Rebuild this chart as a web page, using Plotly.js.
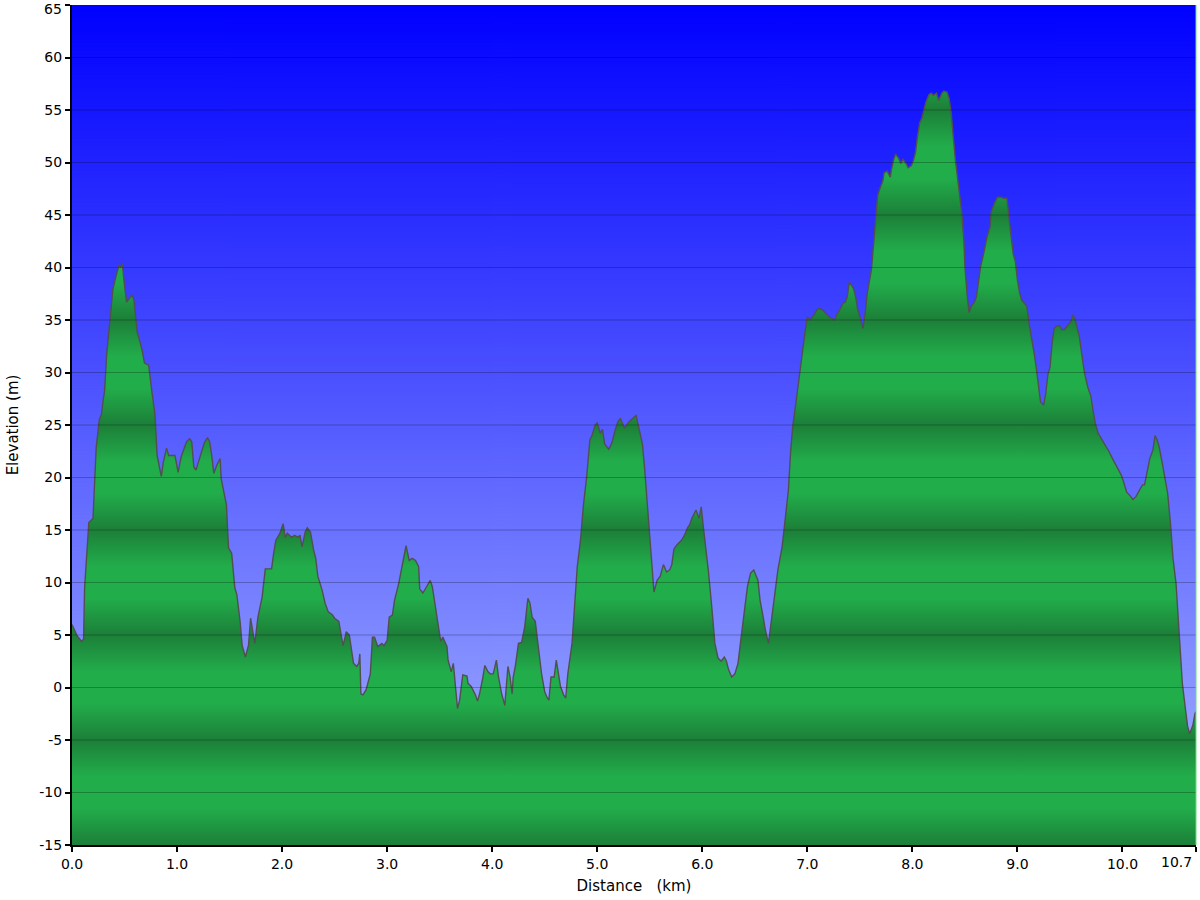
<!DOCTYPE html>
<html>
<head>
<meta charset="utf-8">
<script src="https://cdn.plot.ly/plotly-3.0.1.min.js"></script>
<style>html,body{margin:0;padding:0;background:#fff}#chart{width:1200px;height:900px}</style>
</head>
<body>
<div id="chart"></div>
<script>
// Distance along the route (km)
const distanceKm = [
0.00,0.02,0.05,0.09,0.11,0.12,0.14,0.16,0.20,0.23,0.26,0.28,0.30,0.31,0.33,0.36,0.39,0.43,0.45,0.46,0.48,0.50,0.52,0.55,0.57,0.59,0.62,0.65,0.67,0.69,0.73,0.76,0.79,0.81,0.83,0.85,0.87,0.90,0.92,0.98,
1.01,1.04,1.09,1.12,1.14,1.16,1.18,1.21,1.23,1.26,1.29,1.31,1.33,1.35,1.38,1.41,1.42,1.47,1.49,1.52,1.55,1.57,1.60,1.62,1.65,1.68,1.70,1.72,1.74,1.77,1.81,1.84,1.90,1.92,1.94,1.98,
2.01,2.03,2.05,2.09,2.12,2.15,2.17,2.19,2.22,2.24,2.27,2.30,2.32,2.34,2.38,2.41,2.44,2.48,2.50,2.54,2.56,2.58,2.60,2.61,2.64,2.66,2.68,2.71,2.73,2.74,2.75,2.77,2.80,2.84,2.86,2.88,2.91,2.95,2.97,
3.00,3.02,3.05,3.07,3.11,3.14,3.18,3.21,3.24,3.27,3.30,3.31,3.34,3.37,3.41,3.43,3.46,3.49,3.51,3.53,3.57,3.58,3.61,3.63,3.65,3.67,3.69,3.71,3.72,3.76,3.77,3.80,3.84,3.86,3.88,3.91,3.93,3.96,3.98,
4.01,4.04,4.06,4.09,4.12,4.14,4.15,4.17,4.19,4.20,4.22,4.25,4.28,4.31,4.34,4.36,4.38,4.41,4.44,4.47,4.50,4.52,4.54,4.56,4.59,4.61,4.65,4.68,4.70,4.72,4.76,4.78,4.81,4.84,4.87,4.90,4.93,4.95,4.98,
5.00,5.03,5.05,5.07,5.11,5.14,5.17,5.20,5.22,5.26,5.30,5.33,5.37,5.39,5.43,5.45,5.47,5.49,5.52,5.54,5.57,5.60,5.63,5.66,5.69,5.71,5.73,5.76,5.80,5.83,5.86,5.88,5.90,5.94,5.97,5.99,
6.01,6.04,6.06,6.09,6.12,6.15,6.18,6.21,6.23,6.25,6.28,6.31,6.34,6.37,6.40,6.43,6.46,6.49,6.53,6.55,6.58,6.60,6.63,6.66,6.69,6.72,6.76,6.79,6.82,6.84,6.86,6.89,6.92,6.95,6.98,
7.00,7.03,7.07,7.10,7.14,7.18,7.22,7.26,7.28,7.31,7.34,7.36,7.38,7.40,7.42,7.44,7.46,7.48,7.50,7.52,7.53,7.55,7.57,7.61,7.63,7.65,7.67,7.69,7.72,7.73,7.76,7.79,7.80,7.82,7.84,7.87,7.89,7.91,7.94,7.96,7.99,
8.01,8.03,8.05,8.07,8.09,8.11,8.13,8.16,8.18,8.20,8.22,8.23,8.25,8.28,8.30,8.33,8.35,8.37,8.39,8.41,8.44,8.47,8.49,8.50,8.52,8.54,8.56,8.59,8.61,8.63,8.65,8.68,8.71,8.74,8.75,8.78,8.81,8.84,8.87,8.90,8.91,8.93,8.96,8.98,
9.00,9.02,9.04,9.06,9.09,9.11,9.14,9.16,9.18,9.20,9.22,9.25,9.27,9.29,9.31,9.33,9.35,9.37,9.40,9.42,9.45,9.48,9.51,9.53,9.55,9.57,9.59,9.62,9.64,9.67,9.70,9.72,9.74,9.77,9.80,9.83,9.87,9.91,9.95,9.99,
10.01,10.04,10.07,10.10,10.13,10.16,10.19,10.21,10.24,10.26,10.29,10.31,10.33,10.35,10.38,10.41,10.43,10.46,10.48,10.51,10.53,10.55,10.57,10.60,10.62,10.64,10.67,10.69,10.70
];
// Elevation (m)
const elevationM = [
6.0,5.6,4.9,4.4,4.6,9.5,13.0,15.7,16.1,22.8,25.5,26.0,27.6,28.2,31.7,35.2,38.0,39.6,40.3,40.0,40.3,38.3,36.7,37.1,37.4,36.9,33.9,32.8,32.0,30.9,30.7,28.2,26.0,22.1,20.9,20.1,21.5,22.8,22.1,22.1,
20.5,22.0,23.4,23.7,23.4,21.0,20.7,21.7,22.2,23.3,23.8,23.4,22.1,20.4,21.2,21.8,19.9,17.4,13.3,12.8,9.5,8.8,6.3,4.0,2.9,4.0,6.6,5.3,4.2,6.7,8.6,11.3,11.3,12.8,14.0,14.7,
15.6,14.3,14.7,14.3,14.5,14.3,14.5,13.4,14.8,15.2,14.8,13.1,12.3,10.6,9.3,8.0,7.2,6.9,6.6,6.3,5.2,4.0,4.8,5.3,5.0,3.6,2.3,2.0,2.3,3.2,-0.6,-0.7,-0.2,1.3,4.8,4.8,3.9,4.2,4.0,
4.5,6.7,6.9,8.3,9.9,11.5,13.5,12.1,12.3,12.1,11.5,9.4,9.0,9.5,10.2,9.6,7.7,5.5,4.4,4.8,3.9,2.6,1.5,2.3,0.1,-2.0,-1.2,0.1,1.2,1.1,0.4,0.1,-0.7,-1.3,-0.6,0.9,2.1,1.5,1.3,
1.3,2.6,1.0,-0.6,-1.7,0.7,2.0,1.0,-0.6,1.0,2.0,4.2,4.3,5.8,8.5,8.0,6.7,6.3,3.9,1.3,-0.4,-0.9,-1.2,1.0,1.0,2.6,0.1,-0.7,-1.0,1.3,4.2,7.0,11.5,14.0,17.5,20.1,23.6,24.0,25.0,
25.2,24.2,24.6,23.2,22.7,23.3,24.5,25.4,25.6,24.7,25.3,25.6,25.9,25.0,23.2,21.0,18.5,15.3,12.1,9.1,10.2,10.6,11.7,11.0,11.2,11.7,13.2,13.6,14.0,14.5,15.2,15.5,16.1,16.9,16.1,17.2,
15.3,12.8,10.9,7.7,4.2,2.8,2.5,2.9,2.5,1.7,1.0,1.3,2.3,4.8,7.0,9.6,10.9,11.2,10.2,8.3,6.7,5.5,4.2,6.4,8.6,11.2,13.4,16.0,18.8,22.3,24.8,27.0,29.3,32.1,34.0,
35.3,35.0,35.6,36.1,36.0,35.6,35.2,35.0,35.5,36.0,36.6,36.7,37.2,38.6,38.3,38.0,37.2,36.0,35.3,34.7,34.2,35.6,37.5,39.8,42.0,44.5,46.9,47.5,48.3,49.0,49.2,48.6,49.3,50.2,50.8,50.4,49.9,50.3,49.9,49.5,49.7,
50.2,51.0,52.6,53.8,54.2,55.0,55.8,56.5,56.6,56.4,56.6,56.6,55.9,56.6,56.8,56.7,56.1,54.7,52.4,50.2,47.7,45.2,42.6,40.1,37.5,35.7,36.3,36.7,37.2,38.5,40.1,41.4,42.9,43.9,45.3,46.1,46.7,46.7,46.6,46.6,45.5,43.8,41.3,40.6,
38.8,37.6,36.9,36.7,36.3,34.7,33.1,31.8,30.4,29.0,27.2,26.9,28.0,29.8,30.5,32.8,34.2,34.4,34.5,34.1,34.1,34.5,34.9,35.5,35.0,34.2,33.4,31.2,29.9,28.6,27.7,26.4,25.2,24.2,23.7,23.1,22.5,21.7,20.9,20.2,
19.6,18.6,18.3,17.9,18.2,18.8,19.3,19.3,20.7,21.8,22.6,24.0,23.6,22.9,21.3,19.8,18.5,15.3,12.4,9.9,6.7,3.6,0.4,-2.1,-3.7,-4.4,-3.6,-2.5,-2.3
];
// Axis ticks
const xTickValues = [0,1,2,3,4,5,6,7,8,9,10,10.7];
const xTickLabels = ['0.0','1.0','2.0','3.0','4.0','5.0','6.0','7.0','8.0','9.0','10.0','10.7'];
const yTickValues = [-15,-10,-5,0,5,10,15,20,25,30,35,40,45,50,55,60,65];
const yTickLabels = ['-15','-10','-5','0','5','10','15','20','25','30','35','40','45','50','55','60','65'];
const xRange = [0, 10.7];
const yRange = [-15, 65];

// --- styling built from the axis range ---
const LIGHT = '#22ad4b', DARK = '#1c7f38';
function stripeScale(lo, hi) {
  const span = hi - lo, stops = [];
  const add = (v, c) => { const p = (v - lo) / span; if (p >= 0 && p <= 1) stops.push([p, c]); };
  for (let b = Math.floor(lo / 10) * 10 - 10; b <= hi + 10; b += 10) {
    add(b - 5, DARK);
    add(b - 1.5, LIGHT);
    add(b + 1.5, LIGHT);
  }
  add(hi, DARK);
  stops.sort((a, b) => a[0] - b[0]);
  if (stops[0][0] > 0) stops.unshift([0, DARK]);
  const out = [];
  stops.forEach(s => { if (!out.length || s[0] > out[out.length - 1][0]) out.push(s); });
  return out;
}

const cv = document.createElement('canvas');
cv.width = 4; cv.height = 840;
const ctx = cv.getContext('2d');
const g = ctx.createLinearGradient(0, 0, 0, 840);
g.addColorStop(0, '#0000ff');
g.addColorStop(1, '#a9b7ff');
ctx.fillStyle = g; ctx.fillRect(0, 0, 4, 840);
const bgURL = cv.toDataURL('image/png');

const baseline = {
  x: xRange.slice(), y: [yRange[0], yRange[0]],
  mode: 'lines', line: {width: 0, color: 'rgba(0,0,0,0)'},
  hoverinfo: 'skip', showlegend: false
};
const profile = {
  x: distanceKm, y: elevationM,
  mode: 'lines', fill: 'tonexty',
  line: {color: '#505050', width: 1.4},
  fillcolor: LIGHT,
  fillgradient: {type: 'vertical', colorscale: stripeScale(yRange[0], yRange[1]), start: yRange[0], stop: yRange[1]},
  showlegend: false
};

const shapes = yTickValues.filter(v => v > yRange[0] && v < yRange[1]).map(v => ({
  type: 'line', xref: 'paper', yref: 'y', x0: 0, x1: 1, y0: v, y1: v,
  line: {color: 'rgba(0,0,0,0.25)', width: 1}, layer: 'above'
}));
shapes.push({type: 'line', xref: 'paper', yref: 'paper', x0: 1, x1: 1, y0: 0, y1: 1,
  line: {color: '#5fe07a', width: 1}, layer: 'above'});

const FAM = 'DejaVu Sans, Verdana, sans-serif';
const tickFont = {family: FAM, size: 14, color: '#000'};
const titleFont = {family: FAM, size: 15, color: '#000'};

// edge labels drawn inward, as in the original
const nx = xTickLabels.length, ny = yTickLabels.length;
const xText = xTickLabels.slice(); xText[nx - 1] = '';
const yText = yTickLabels.slice(); yText[ny - 1] = '';
const annotations = [
  {text: xTickLabels[nx - 1], xref: 'paper', yref: 'paper', x: 1, y: 0, xanchor: 'right', yanchor: 'top',
   xshift: -2, yshift: -7, showarrow: false, font: tickFont},
  {text: yTickLabels[ny - 1], xref: 'paper', yref: 'paper', x: 0, y: 1, xanchor: 'right', yanchor: 'middle',
   xshift: -8, yshift: -4, showarrow: false, font: tickFont}
];

const layout = {
  width: 1200, height: 900,
  margin: {l: 72, r: 4, t: 5, b: 55},
  paper_bgcolor: '#ffffff', plot_bgcolor: 'rgba(0,0,0,0)',
  font: tickFont,
  showlegend: false,
  images: [{source: bgURL, xref: 'paper', yref: 'paper', x: 0, y: 1, sizex: 1, sizey: 1,
    sizing: 'stretch', xanchor: 'left', yanchor: 'top', layer: 'below'}],
  xaxis: {
    range: xRange, tickmode: 'array', tickvals: xTickValues, ticktext: xText,
    showgrid: false, zeroline: false, showline: true, linecolor: '#000', linewidth: 2,
    ticks: 'outside', ticklen: 5, tickwidth: 2, tickcolor: '#000',
    tickfont: tickFont, ticklabeloverflow: 'allow',
    title: {text: 'Distance\u00a0\u00a0\u00a0(km)', font: titleFont, standoff: 10},
    fixedrange: true
  },
  yaxis: {
    range: yRange, tickmode: 'array', tickvals: yTickValues, ticktext: yText,
    showgrid: false, zeroline: false, showline: true, linecolor: '#000', linewidth: 2,
    ticks: 'outside', ticklen: 5, tickwidth: 2, tickcolor: '#000',
    tickfont: tickFont, ticklabeloverflow: 'allow',
    title: {text: 'Elevation (m)', font: titleFont, standoff: 17},
    fixedrange: true
  },
  shapes: shapes,
  annotations: annotations
};
Plotly.newPlot('chart', [baseline, profile], layout, {displayModeBar: false, staticPlot: true});
</script>
</body>
</html>
